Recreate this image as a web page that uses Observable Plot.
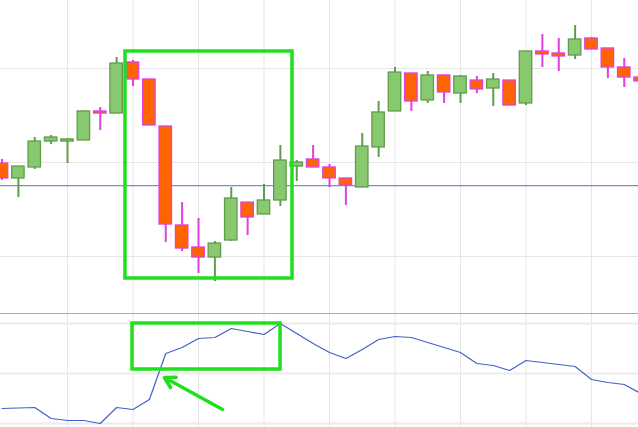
<!DOCTYPE html>
<html><head><meta charset="utf-8">
<script src="https://cdn.jsdelivr.net/npm/d3@7"></script>
<script src="https://cdn.jsdelivr.net/npm/@observablehq/plot@0.6"></script>
<style>
html,body{margin:0;padding:0;background:#fff;}
#chart svg{display:block;overflow:hidden;background:#fff;}
#lower svg{border-top:1px solid #a9aeb9;}
</style></head><body><div id="chart"><div id="upper"></div><div id="lower"></div></div>
<script>
// OHLC price data (one candle per session)
const open  = [109.89,108.30,109.47,112.23,112.23,112.34,115.43,115.21,120.64,118.83,113.83,103.30,100.96,99.89,101.70,105.74,104.47,105.96,109.57,110.32,109.47,108.30,107.34,111.60,115.43,119.47,116.60,119.26,117.34,118.72,117.87,118.72,116.28,121.81,121.60,121.38,123.19,122.13,120.11,119.04];
const high  = [110.32,109.57,112.66,112.87,112.55,115.43,115.85,121.17,120.85,118.83,113.83,105.74,104.04,101.60,107.34,105.74,107.66,111.81,110.21,111.81,109.79,108.30,113.09,116.49,120.11,119.47,119.68,119.26,119.26,119.15,119.47,118.72,121.81,123.62,123.19,124.57,123.30,122.13,121.06,119.04];
const low   = [108.09,106.28,109.26,111.91,109.89,112.34,113.40,115.21,118.09,113.94,101.49,100.53,98.19,97.34,101.60,102.23,104.47,105.32,107.98,109.47,107.34,105.43,107.34,110.53,115.43,115.43,116.28,116.28,116.28,117.34,115.96,116.06,116.06,120.11,119.68,120.96,122.02,118.94,117.98,118.62];
const close = [108.30,109.57,112.23,112.66,112.45,115.43,115.21,120.53,118.83,113.94,103.40,100.85,99.89,101.38,106.17,104.15,105.96,110.21,110.00,109.47,108.30,107.55,111.70,115.32,119.57,116.49,119.26,117.45,119.15,117.77,118.83,116.06,121.81,121.49,121.28,123.09,122.02,120.11,119.04,118.62];
// Oscillator (lower panel)
const osc = [6.0,6.2,6.4,2.0,1.2,1.2,0.0,6.4,5.6,9.6,28.0,30.4,34.0,34.4,38.0,36.8,35.6,40.0,36.0,32.0,28.4,26.0,29.6,33.6,34.8,34.4,32.4,30.4,28.4,24.0,23.2,21.2,25.2,24.4,23.6,22.8,17.6,16.4,15.6,12.0];
// Reference level (horizontal blue line)
const refLevel = [107.55];
// Grid ticks
const xGrid = [4,8,12,16,20,24,28,32,36];
const yGridUpper = [100,110,120];
const yGridLower = [0,20,40];
// Annotations (data coordinates)
const boxUpper = [{x1:7.54, x2:17.74, y1:97.66, y2:121.81}];
const boxLower = [{x1:7.97, x2:17.01, y1:21.6, y2:40}];
const arrowLower = [{x1:13.47, y1:5.6, x2:9.92, y2:18.4}];

const candles = open.map((o,i)=>({i, open:o, high:high[i], low:low[i], close:close[i]}));
const ups = candles.filter(d=>d.close>=d.open);
const downs = candles.filter(d=>d.close<d.open);
const oscData = osc.map((v,i)=>({i, v}));

const W = 638;
const xDomain = [-0.092, 38.87];
const greenFill = "#88c86f", greenStroke = "#5e9d4b";
const orangeFill = "#ff6400", magenta = "#e03ee0";
const hl = "#1fe01f";
const gridC = "#e6e6e6";
const hw = 0.38;

const upper = Plot.plot({
  width: W, height: 313,
  marginTop:0, marginBottom:0, marginLeft:0, marginRight:0,
  x: {domain: xDomain, axis: null},
  y: {domain: [93.936, 127.234], axis: null},
  marks: [
    Plot.ruleX(xGrid, {stroke: gridC, strokeWidth: 1}),
    Plot.ruleY(yGridUpper, {stroke: gridC, strokeWidth: 1.2}),
    Plot.ruleY(refLevel, {stroke: "#6e90d6", strokeWidth: 1.2}),
    Plot.ruleX(ups, {x:"i", y1:"low", y2:"high", stroke: greenStroke, strokeWidth: 2}),
    Plot.ruleX(downs, {x:"i", y1:"low", y2:"high", stroke: magenta, strokeWidth: 2}),
    Plot.rect(ups, {x1: d=>d.i-hw, x2: d=>d.i+hw, y1:"open", y2:"close", fill: greenFill, stroke: greenStroke, strokeWidth: 1.3}),
    Plot.rect(downs, {x1: d=>d.i-hw, x2: d=>d.i+hw, y1:"open", y2:"close", fill: orangeFill, stroke: magenta, strokeWidth: 1.3}),
    Plot.rect(boxUpper, {x1:"x1", x2:"x2", y1:"y1", y2:"y2", fill:"none", stroke: hl, strokeWidth: 3.5})
  ]
});

const lower = Plot.plot({
  width: W, height: 113,
  marginTop:0, marginBottom:0, marginLeft:0, marginRight:0,
  x: {domain: xDomain, axis: null},
  y: {domain: [-1.6, 43.6], axis: null},
  marks: [
    Plot.ruleX(xGrid, {stroke: gridC, strokeWidth: 1}),
    Plot.ruleY(yGridLower, {stroke: "#ececec", strokeWidth: 2}),
    Plot.line(oscData, {x:"i", y:"v", stroke:"#3f63c6", strokeWidth: 1.2}),
    Plot.rect(boxLower, {x1:"x1", x2:"x2", y1:"y1", y2:"y2", fill:"none", stroke: hl, strokeWidth: 3.5}),
    Plot.arrow(arrowLower, {x1:"x1", y1:"y1", x2:"x2", y2:"y2", stroke: hl, strokeWidth: 3.5, headLength: 5})
  ]
});

document.getElementById("upper").appendChild(upper);
document.getElementById("lower").appendChild(lower);
</script>
</body></html>
